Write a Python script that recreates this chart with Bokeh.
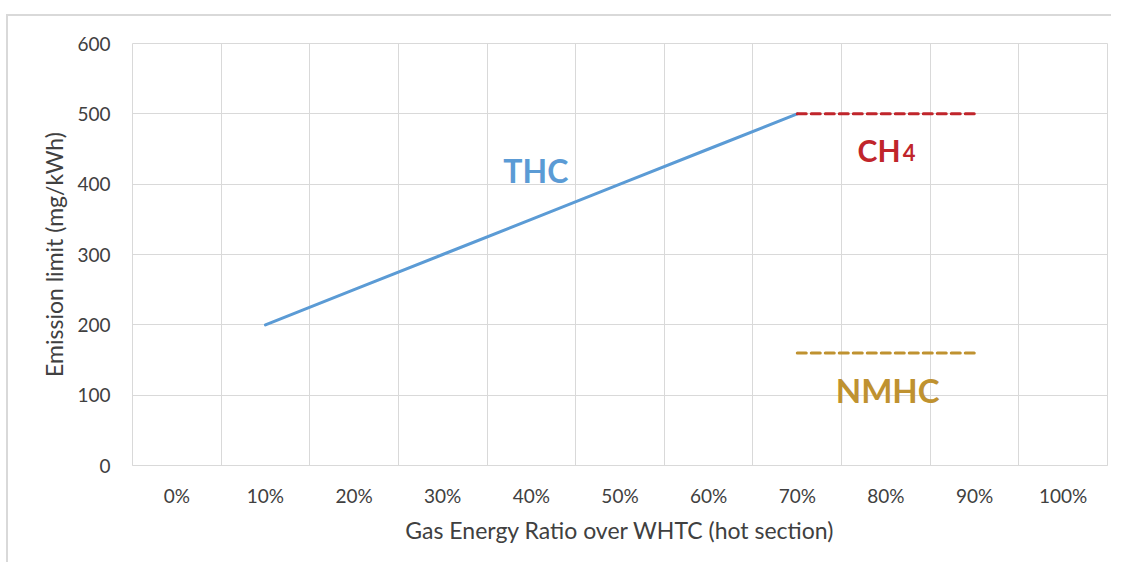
from bokeh.plotting import figure
from bokeh.models import FixedTicker, Range1d, ColumnDataSource
from bokeh.core.properties import value
from bokeh.embed import file_html
from bokeh.resources import INLINE

# ---- data ----
categories = ["0%", "10%", "20%", "30%", "40%", "50%", "60%", "70%", "80%", "90%", "100%"]
thc_cats = ["10%", "20%", "30%", "40%", "50%", "60%", "70%"]
thc_values = [200, 250, 300, 350, 400, 450, 500]
ch4_cats = ["70%", "80%", "90%"]
ch4_values = [500, 500, 500]
nmhc_cats = ["70%", "80%", "90%"]
nmhc_values = [160, 160, 160]
y_ticks = [0, 100, 200, 300, 400, 500, 600]

FONT = "Lato"
GRID = "#D9D9D9"
TXT = "#404040"
BLUE = "#5B9BD5"
RED = "#C0252B"
GOLD = "#BF9230"

idx = {c: i for i, c in enumerate(categories)}

p = figure(width=1105, height=548, output_backend="svg", toolbar_location=None,
           x_range=Range1d(-0.5, len(categories) - 0.5), y_range=Range1d(0, 600),
           min_border_left=124, min_border_right=6, min_border_top=27, min_border_bottom=99,
           styles={"border-top": "2px solid #D9D9D9", "border-left": "2px solid #D9D9D9",
                   "margin-top": "14px", "margin-left": "6px"})
p.background_fill_color = "white"
p.border_fill_color = "white"
p.outline_line_color = GRID

# grids
p.xgrid.ticker = FixedTicker(ticks=[i - 0.5 for i in range(len(categories) + 1)])
p.ygrid.ticker = FixedTicker(ticks=y_ticks)
for g in (p.xgrid, p.ygrid):
    g.grid_line_color = GRID
    g.grid_line_width = 1

# x axis
xa = p.xaxis[0]
xa.ticker = FixedTicker(ticks=list(range(len(categories))))
xa.major_label_overrides = {i: c for i, c in enumerate(categories)}
xa.axis_line_color = GRID
xa.major_tick_line_color = None
xa.minor_tick_line_color = None
xa.major_label_standoff = 12
xa.axis_label = "Gas Energy Ratio over WHTC (hot section)"
xa.axis_label_standoff = 6

# y axis
ya = p.yaxis[0]
ya.ticker = FixedTicker(ticks=y_ticks)
ya.axis_line_color = None
ya.major_tick_line_color = None
ya.minor_tick_line_color = None
ya.major_label_standoff = 16
ya.axis_label = "Emission limit (mg/kWh)"
ya.axis_label_standoff = 6

for ax in (xa, ya):
    ax.major_label_text_font = FONT
    ax.major_label_text_font_size = "19px"
    ax.major_label_text_color = TXT
    ax.axis_label_text_font = FONT
    ax.axis_label_text_font_size = "23px"
    ax.axis_label_text_font_style = "normal"
    ax.axis_label_text_color = TXT

# series
thc = ColumnDataSource(dict(x=[idx[c] for c in thc_cats], y=thc_values))
ch4 = ColumnDataSource(dict(x=[idx[c] for c in ch4_cats], y=ch4_values))
nmhc = ColumnDataSource(dict(x=[idx[c] for c in nmhc_cats], y=nmhc_values))

p.line("x", "y", source=thc, line_color=BLUE, line_width=3, line_cap="round")
p.line("x", "y", source=ch4, line_color=RED, line_width=3, line_dash="9 5", line_cap="round")
p.line("x", "y", source=nmhc, line_color=GOLD, line_width=3, line_dash="9 5", line_cap="round")

# labels
p.text(x=[4.05], y=[419], text=["THC"], text_font=value(FONT), text_font_style="bold",
       text_font_size="32px", text_color=BLUE, text_align="center", text_baseline="middle")
p.text(x=[8.165], y=[449], text=["CH"], text_font=value(FONT), text_font_style="bold",
       text_font_size="30px", text_color=RED, text_align="right", text_baseline="middle")
p.text(x=[8.19], y=[445], text=["4"], text_font=value(FONT), text_font_style="bold",
       text_font_size="22px", text_color=RED, text_align="left", text_baseline="middle")
p.text(x=[8.02], y=[107], text=["NMHC"], text_font=value(FONT), text_font_style="bold",
       text_font_size="33px", text_color=GOLD, text_align="center", text_baseline="middle")

open("out.html", "w").write(file_html(p, INLINE))
